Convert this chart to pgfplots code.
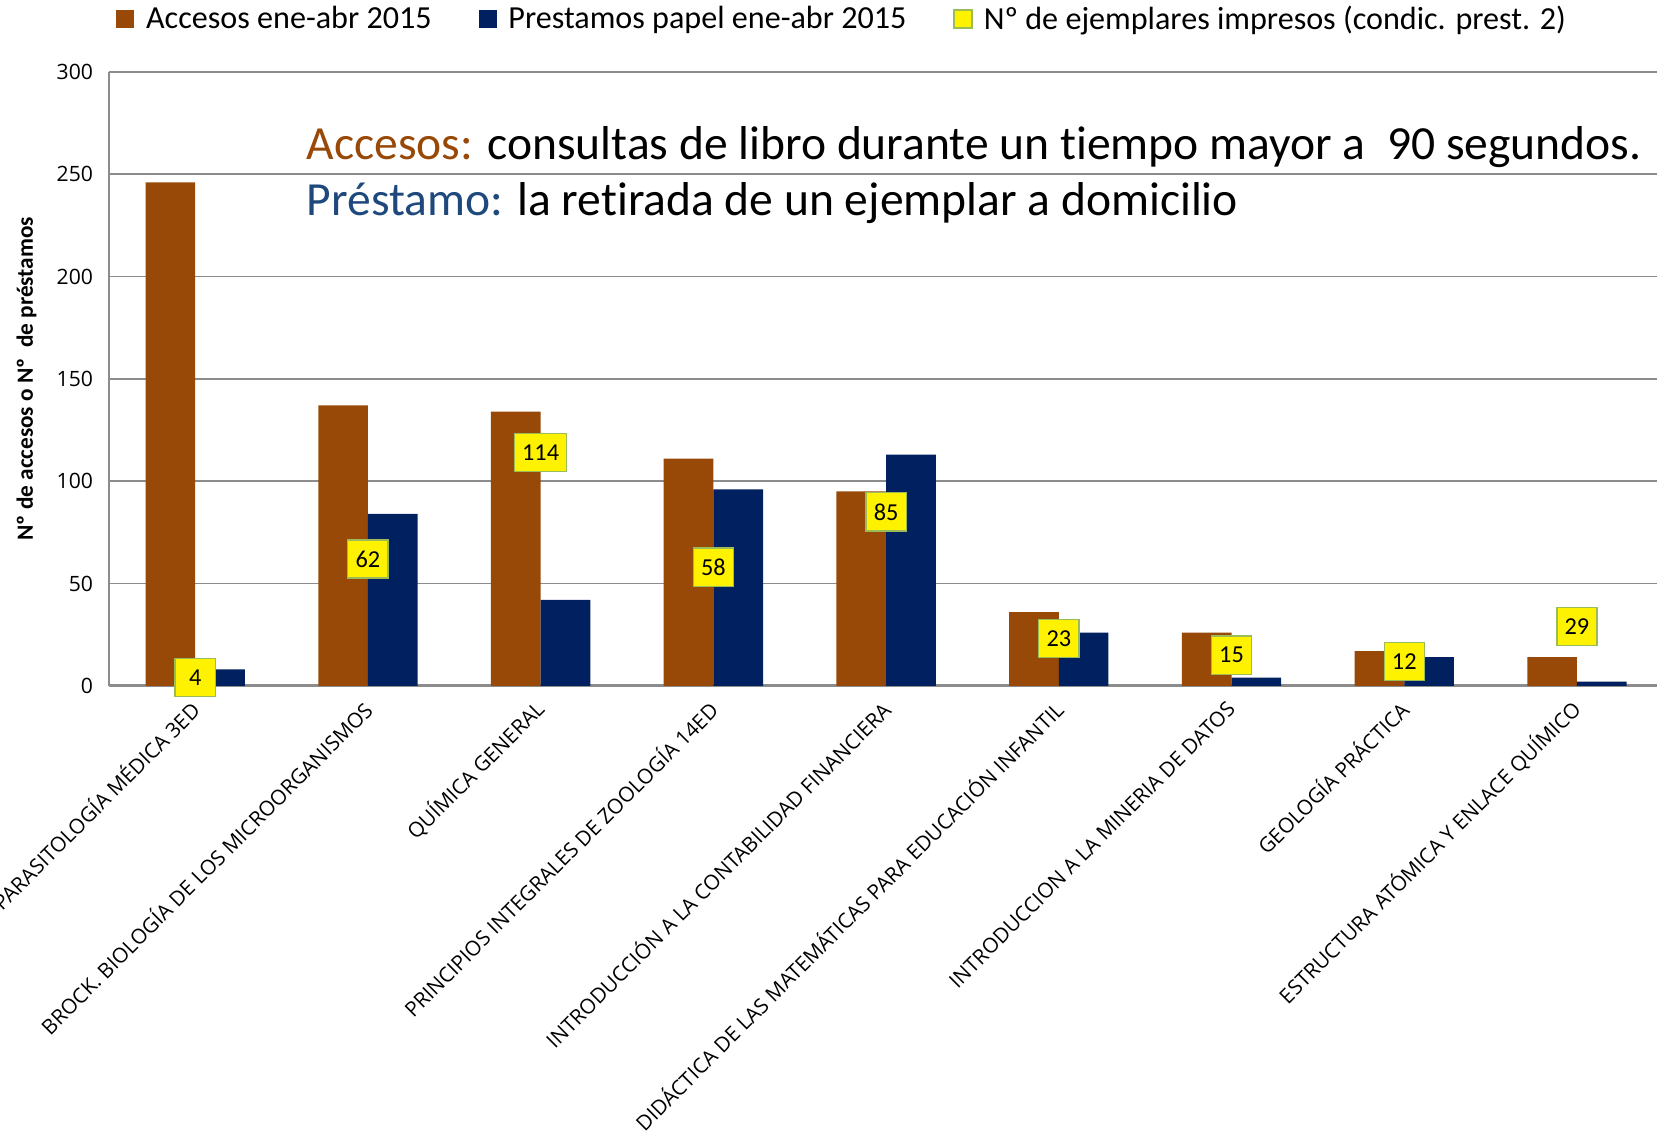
\documentclass[border=0pt]{standalone}
\usepackage{pgfplots}
\pgfplotsset{compat=1.18}
\usepackage{fontspec}
\setmainfont{Carlito}[Ligatures=NoCommon]
\newfontfamily\osans{Open Sans}

\definecolor{brownbar}{RGB}{152,72,7}
\definecolor{bluebar}{RGB}{0,32,96}
\definecolor{prestxt}{RGB}{31,73,125}
\definecolor{gridgray}{RGB}{140,140,140}
\definecolor{boxedge}{RGB}{155,187,89}

\begin{document}
\begin{tikzpicture}
\begin{axis}[
  scale only axis,
  width=735.5pt, height=290.5pt,
  xmin=-0.5, xmax=8.5,
  ymin=0, ymax=300,
  ytick={0,50,100,150,200,250,300},
  xtick={0,1,2,3,4,5,6,7,8},
  xticklabels={PARASITOLOGÍA MÉDICA 3ED,
    BROCK. BIOLOGÍA DE LOS MICROORGANISMOS,
    QUÍMICA GENERAL,
    PRINCIPIOS INTEGRALES DE ZOOLOGÍA 14ED,
    INTRODUCCIÓN A LA CONTABILIDAD FINANCIERA,
    DIDÁCTICA DE LAS MATEMÁTICAS PARA EDUCACIÓN INFANTIL,
    INTRODUCCION A LA MINERIA DE DATOS,
    GEOLOGÍA PRÁCTICA,
    ESTRUCTURA ATÓMICA Y ENLACE QUÍMICO},
  axis x line*=bottom, axis y line*=left,
  x axis line style={gridgray, line width=1.4pt},
  y axis line style={gridgray, line width=0.8pt},
  ymajorgrids, grid style={gridgray, line width=0.8pt},
  major tick length=0pt,
  /pgf/number format/assume math mode=true,
  yticklabel style={font=\osans\fontsize{10}{12}\selectfont, xshift=-4pt},
  xticklabel style={font=\osans\fontsize{9.8}{11}\selectfont, xshift=2.3pt, yshift=-6.8pt, rotate=45, anchor=east},
  every axis y label/.style={at={(axis description cs:-0.053,0.5)}, rotate=90, anchor=center},
  ylabel={\bfseries Nº de accesos o Nº\ \ de préstamos},
  ylabel style={font=\fontsize{11}{13}\selectfont},
  clip=false,
  legend columns=3,
  legend style={at={(axis description cs:0.0045,1.086)}, anchor=west, draw=none, fill=none,
    inner sep=0pt, font=\fontsize{15.2}{18}\selectfont,
    nodes={inner xsep=2.2pt, inner ysep=1pt},
    /tikz/every even column/.append style={column sep=20pt}},
]
\addplot[ybar, bar width=23.5pt, bar shift=-11.75pt, fill=brownbar, draw=none,
  legend image code/.code={\fill[brownbar] (0pt,-4.25pt) rectangle (8.5pt,4.25pt); \path (11.9pt,0pt);}]
  coordinates {(0,246) (1,137) (2,134) (3,111) (4,95) (5,36) (6,26) (7,17) (8,14)};
\addlegendentry{Accesos ene-abr 2015}
\addplot[ybar, bar width=23.5pt, bar shift=11.75pt, fill=bluebar, draw=none,
  legend image code/.code={\fill[bluebar] (0pt,-4.25pt) rectangle (8.5pt,4.25pt); \path (11.9pt,0pt);}]
  coordinates {(0,8) (1,84) (2,42) (3,96) (4,113) (5,26) (6,4) (7,14) (8,2)};
\addlegendentry{Prestamos papel ene-abr 2015}
\addplot[draw=none, mark=none, nodes near coords,
  every node near coord/.append style={anchor=center, fill=yellow, draw=boxedge, line width=0.6pt,
    minimum width=19pt, minimum height=18pt, inner xsep=3.5pt, text=black,
    font=\fontsize{11.5}{13}\selectfont},
  legend image code/.code={\draw[fill=yellow, draw=boxedge, line width=0.6pt] (0pt,-4.25pt) rectangle (8.5pt,4.25pt); \path (11.9pt,0pt);}]
  coordinates {(0,4) (1,62) (2,114) (3,58) (4,85) (5,23) (6,15) (7,12) (8,29)};
\addlegendentry{Nº de ejemplares impresos (condic. prest. 2)}
\node[anchor=base west, inner sep=0pt, font=\fontsize{22.5}{27}\selectfont] at (axis cs:0.644,257)
  {\textcolor{brownbar}{Accesos:} consultas de libro durante un tiempo mayor a~ 90 segundos.};
\node[anchor=base west, inner sep=0pt, font=\fontsize{22.5}{27}\selectfont] at (axis cs:0.644,229.7)
  {\textcolor{prestxt}{Préstamo:} la retirada de un ejemplar a domicilio};
\end{axis}
\pgfresetboundingbox
\useasboundingbox (-51.5pt,-210.5pt) rectangle (732.5pt,324.5pt);
\end{tikzpicture}
\end{document}
